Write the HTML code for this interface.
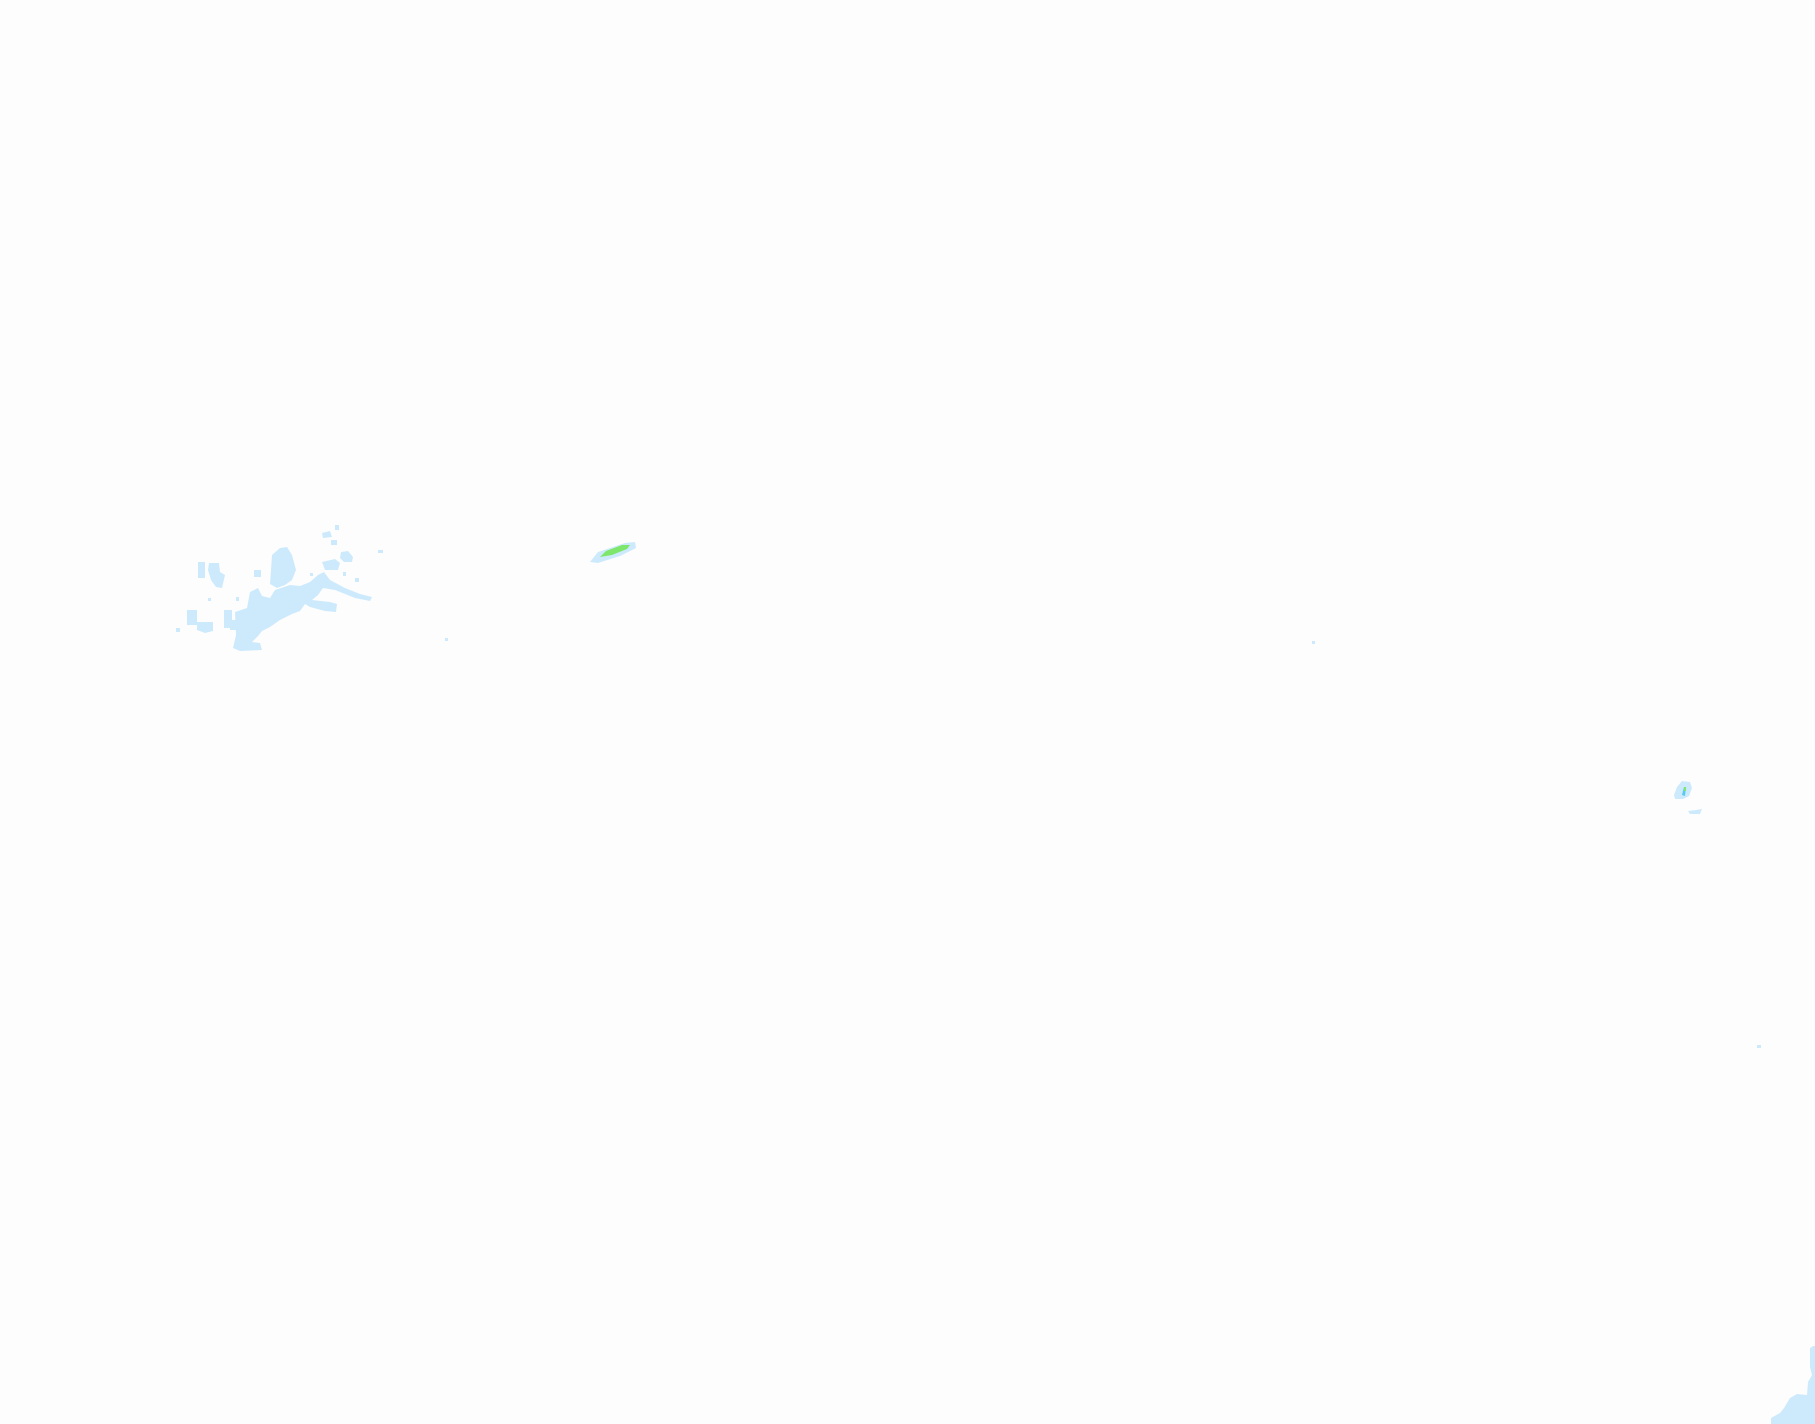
<!DOCTYPE html>
<html><head><meta charset="utf-8"><style>html,body{margin:0;padding:0;background:#fdfdfd;}svg{display:block}</style></head>
<body>
<svg width="1815" height="1424" viewBox="0 0 1815 1424" xmlns="http://www.w3.org/2000/svg">
<rect width="1815" height="1424" fill="#fdfdfd"/>
<g fill="#cdeafd">
<polygon points="235,612 247,608 250,592 258,588 262,596 270,598 275,590 290,585 300,586 310,582 318,575 324,572 330,580 345,588 360,594 372,597 370,601 355,598 335,590 323,588 318,595 312,600 330,602 337,604 336,612 325,611 310,607 305,604 300,611 292,614 280,620 270,627 262,631 258,636 252,642 260,643 262,650 240,651 233,648 236,635"/>
<polygon points="272,555 280,548 287,547 292,555 296,570 292,580 285,585 277,588 270,584 271,570"/>
<polygon points="198,562 205,562 205,578 198,578"/>
<polygon points="209,563 219,563 220,572 225,575 222,588 216,587 211,580 208,570"/>
<polygon points="187,610 197,610 197,625 187,625"/>
<polygon points="197,622 213,622 213,631 205,633 197,630"/>
<polygon points="224,610 232,610 232,628 224,628"/>
<polygon points="230,620 238,620 238,630 230,630"/>
<polygon points="322,533 330,531 332,537 323,538"/>
<polygon points="335,525 339,525 339,530 335,530"/>
<polygon points="331,540 337,540 337,545 331,545"/>
<polygon points="341,552 348,551 353,557 352,562 344,562 340,558"/>
<rect x="378" y="550" width="5" height="3"/>
<polygon points="322,562 335,559 340,563 338,570 325,570"/>
<rect x="254" y="570" width="7" height="7"/>
<rect x="262" y="600" width="6" height="6"/>
<rect x="176" y="628" width="4" height="4"/>
<rect x="208" y="598" width="3" height="3"/>
<rect x="236" y="597" width="3" height="4"/>
<rect x="310" y="573" width="3" height="3"/>
<rect x="343" y="572" width="3" height="4"/>
<rect x="355" y="578" width="4" height="4"/>
<polygon points="590,562 598,552 625,543 635,542 636,548 620,556 598,563"/>
<rect x="445" y="638" width="3" height="3"/>
<rect x="1312" y="641" width="3" height="3"/>
<rect x="1757" y="1045" width="4" height="3"/>
<polygon points="1674,795 1677,787 1682,781 1690,782 1692,788 1689,796 1683,799 1675,799"/>
<polygon points="1688,811 1696,810 1702,809 1700,814 1690,814"/>
<polygon points="1771,1424 1771,1418 1780,1413 1784,1408 1790,1398 1797,1394 1807,1395 1808,1382 1812,1375 1810,1367 1810,1348 1813,1346 1815,1346 1815,1424"/>
</g>
<polygon points="600,557 606,551 622,545 630,545 627,549 612,555" fill="#7ee66b"/>
<polygon points="1682,795 1684,787 1686,787 1685,796" fill="#5ac9f0"/>
<rect x="1684" y="787" width="2" height="4" fill="#7ee66b"/>
</svg>
</body></html>
